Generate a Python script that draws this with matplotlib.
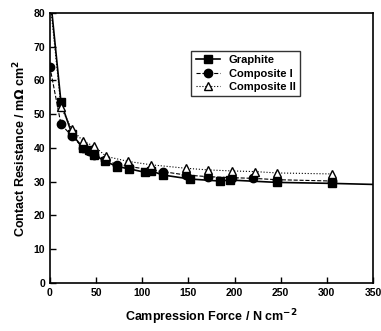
import matplotlib
matplotlib.use("Agg")
import matplotlib.pyplot as plt
from matplotlib.ticker import MultipleLocator

plt.rcParams['font.family'] = ['Liberation Sans', 'DejaVu Sans']
plt.rcParams['font.weight'] = 'bold'

# data
graphite_x = [0, 12, 24, 36, 42, 48, 60, 73, 86, 103, 110, 122, 152, 184, 195, 246, 306, 350]
graphite_y = [86, 53.5, 44, 40, 39.5, 38, 36, 34.5, 33.8, 32.8, 33.2, 32, 30.8, 30.2, 30.5, 29.8, 29.5, 29.2]
comp1_x = [0, 12, 24, 36, 42, 48, 60, 73, 86, 110, 122, 147, 171, 197, 220, 246, 306]
comp1_y = [64, 47, 43.5, 40, 39, 38, 36.5, 35, 34.5, 33.5, 33, 32, 31.5, 31.2, 31, 30.6, 30.2]
comp2_x = [0, 12, 24, 36, 48, 61, 85, 110, 147, 171, 197, 222, 246, 306]
comp2_y = [84, 52, 45.5, 42, 40.5, 37.5, 36, 35, 34, 33.5, 33.2, 33, 32.6, 32.3]

fig = plt.figure(figsize=(3.81, 3.31), dpi=100)
ax = fig.add_axes([0.131, 0.145, 0.848, 0.816])

ax.plot(graphite_x, graphite_y, '-', color='black', lw=1.2, marker='s', ms=6,
        markevery=list(range(len(graphite_x) - 1)), label='Graphite')
ax.plot(comp1_x, comp1_y, '--', color='black', lw=0.8, marker='o', ms=6,
        label='Composite I')
ax.plot(comp2_x, comp2_y, ':', color='black', lw=0.8, marker='^', ms=5.5,
        mfc='white', mec='black', label='Composite II')

ax.set_xlim(0, 350)
ax.set_ylim(0, 80)
ax.xaxis.set_major_locator(MultipleLocator(50))
ax.yaxis.set_major_locator(MultipleLocator(10))
ax.tick_params(direction='in', labelsize=7.5, length=4, width=1)
for s in ax.spines.values():
    s.set_linewidth(1.2)

ax.set_xlabel('Campression Force / N cm$^{-2}$', fontsize=9, fontweight='bold', labelpad=7)
ax.set_ylabel('Contact Resistance / m$\\Omega$ cm$^{2}$', fontsize=9, fontweight='bold')

leg = ax.legend(loc='upper left', bbox_to_anchor=(0.42, 0.88), fontsize=8,
                frameon=True, fancybox=False, edgecolor='black', handlelength=2.2,
                borderpad=0.4, labelspacing=0.3)
leg.get_frame().set_linewidth(1)

fig.savefig('out.png', dpi=100)
